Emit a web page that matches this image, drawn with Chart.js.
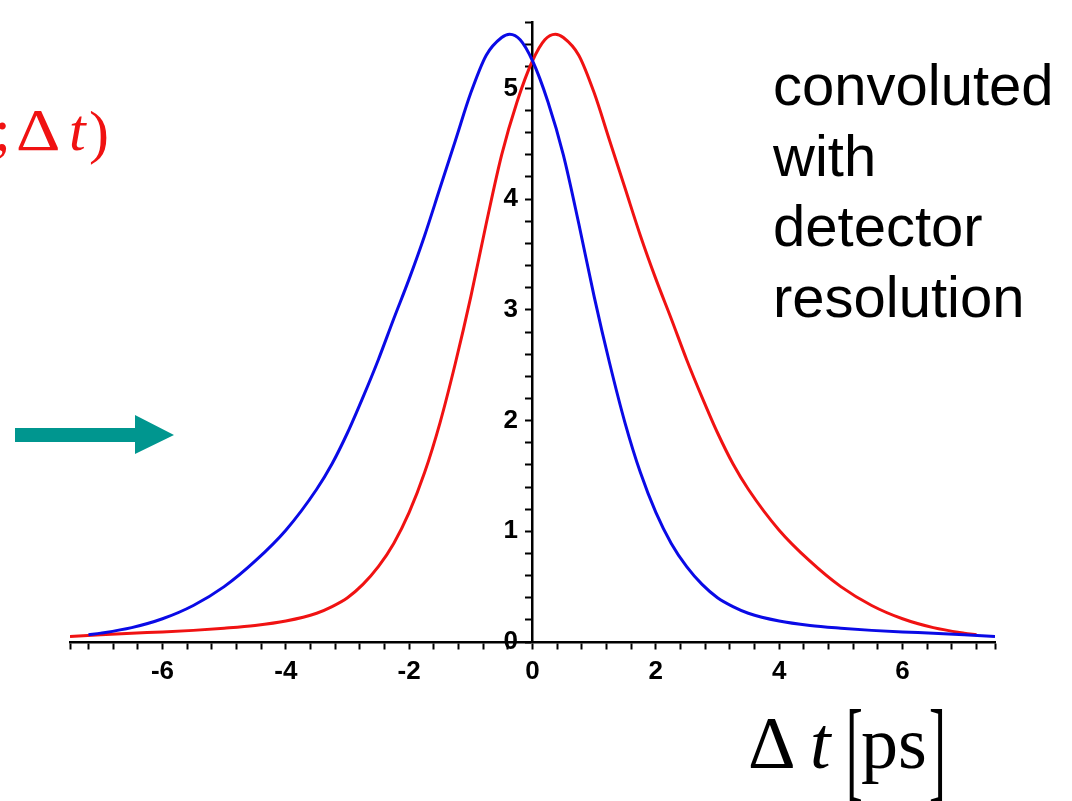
<!DOCTYPE html>
<html>
<head>
<meta charset="utf-8">
<script src="https://cdn.jsdelivr.net/npm/chart.js@4.4.1/dist/chart.umd.min.js"></script>
<style>
  html, body { margin: 0; padding: 0; background: #fff; }
  #wrap { width: 1072px; height: 801px; position: relative; }
</style>
</head>
<body>
<div id="wrap"><canvas id="dtChart"></canvas></div>
<script>
// decay-time distributions, both already smeared by the detector resolution
const dtBlue = [-7.2, -7, -6.5, -6, -5.5, -5, -4.5, -4, -3.5, -3.25, -3, -2.75, -2.5, -2.25, -2, -1.75, -1.5, -1.25, -1, -0.75, -0.5, -0.37, -0.2,
                0, 0.25, 0.5, 0.75, 1, 1.25, 1.5, 1.75, 2, 2.25, 2.5, 2.75, 3, 3.25, 3.5, 4, 4.5, 5, 5.5, 6, 6.5, 7, 7.5];
const blueValues = [0.065, 0.08, 0.13, 0.21, 0.33, 0.50, 0.73, 1.01, 1.38, 1.61, 1.89, 2.21, 2.55, 2.92, 3.28, 3.67, 4.10, 4.53, 4.96, 5.30, 5.46, 5.49, 5.44,
                    5.25, 4.88, 4.40, 3.78, 3.12, 2.52, 1.98, 1.53, 1.17, 0.89, 0.68, 0.52, 0.40, 0.32, 0.26, 0.19, 0.15, 0.125, 0.105, 0.09, 0.08, 0.065, 0.05];

const dtRed = [-7.5, -7, -6.5, -6, -5.5, -5, -4.5, -4, -3.5, -3.25, -3, -2.75, -2.5, -2.25, -2, -1.75, -1.5, -1.25, -1, -0.75, -0.5, -0.25,
               0, 0.2, 0.37, 0.5, 0.75, 1, 1.25, 1.5, 1.75, 2, 2.25, 2.5, 2.75, 3, 3.25, 3.5, 4, 4.5, 5, 5.5, 6, 6.5, 7, 7.2];
const redValues = [0.05, 0.065, 0.08, 0.09, 0.105, 0.125, 0.15, 0.19, 0.26, 0.32, 0.40, 0.52, 0.68, 0.89, 1.17, 1.53, 1.98, 2.52, 3.12, 3.78, 4.40, 4.88,
                   5.25, 5.44, 5.49, 5.46, 5.30, 4.96, 4.53, 4.10, 3.67, 3.28, 2.92, 2.55, 2.21, 1.89, 1.61, 1.38, 1.01, 0.73, 0.50, 0.33, 0.21, 0.13, 0.08, 0.065];

const xTickLabels = [-6, -4, -2, 0, 2, 4, 6];
const yTickLabels = [0, 1, 2, 3, 4, 5];

const X_MIN = -7.5, X_MAX = 7.5, Y_MAX = 5.6;

// minor ticks every 0.4 along x (plus the two ends), every 0.2 along y
const xTicks = [X_MIN];
for (let i = -18; i <= 18; i++) xTicks.push(Math.round(i * 4) / 10);
xTicks.push(X_MAX);
const yTicks = [];
for (let i = 0; i <= 28; i++) yTicks.push(Math.round(i * 2) / 10);

const toPoints = (xs, ys) => xs.map((x, i) => ({ x: x, y: ys[i] }));

const tickFont = { family: '"Liberation Sans", Arial, sans-serif', size: 26, weight: 'bold' };

// text and the arrow around the plot
const sideNotes = {
  id: 'sideNotes',
  afterDraw(chart) {
    const ctx = chart.ctx;
    ctx.save();
    ctx.textBaseline = 'alphabetic';
    ctx.textAlign = 'left';

    // red fragment of the formula, clipped by the left edge
    ctx.fillStyle = 'rgb(240,18,18)';
    ctx.font = '60px "Liberation Serif", serif';
    ctx.fillText(';', -6, 150);
    ctx.save();
    ctx.translate(16, 150);
    ctx.scale(1.15, 1);
    ctx.fillText('Δ', 0, 0);
    ctx.restore();
    ctx.font = 'italic 60px "Liberation Serif", serif';
    ctx.fillText('t', 69, 150);
    ctx.font = '60px "Liberation Serif", serif';
    ctx.fillText(')', 89, 152);

    // teal arrow
    ctx.fillStyle = '#00968f';
    ctx.beginPath();
    ctx.moveTo(15, 428);
    ctx.lineTo(135, 428);
    ctx.lineTo(135, 415);
    ctx.lineTo(174, 435);
    ctx.lineTo(135, 454);
    ctx.lineTo(135, 442);
    ctx.lineTo(15, 442);
    ctx.closePath();
    ctx.fill();

    // note on the right
    ctx.fillStyle = '#000';
    ctx.font = '58px "Liberation Sans", Arial, sans-serif';
    ['convoluted', 'with', 'detector', 'resolution'].forEach((line, i) => {
      ctx.fillText(line, 773, 105 + i * 70.6);
    });

    // axis title  Δt [ps]
    ctx.font = '74px "Liberation Serif", serif';
    ctx.fillText('Δ', 748, 768);
    ctx.font = 'italic 74px "Liberation Serif", serif';
    ctx.fillText('t', 810, 768);
    ctx.font = '74px "Liberation Serif", serif';
    ctx.fillText('ps', 861, 768);
    ctx.font = '112px "Liberation Serif", serif';
    ctx.save();
    ctx.translate(846, 787);
    ctx.scale(0.45, 1);
    ctx.fillText('[', 0, 0);
    ctx.restore();
    ctx.save();
    ctx.translate(929, 787);
    ctx.scale(0.45, 1);
    ctx.fillText(']', 0, 0);
    ctx.restore();

    ctx.restore();
  }
};

new Chart(document.getElementById('dtChart'), {
  type: 'line',
  data: {
    datasets: [
      {
        label: 'blue',
        data: toPoints(dtBlue, blueValues),
        borderColor: 'rgb(10,10,230)',
        borderWidth: 3,
        pointRadius: 0,
        cubicInterpolationMode: 'monotone'
      },
      {
        label: 'red',
        data: toPoints(dtRed, redValues),
        borderColor: 'rgb(240,18,18)',
        borderWidth: 3,
        pointRadius: 0,
        cubicInterpolationMode: 'monotone'
      }
    ]
  },
  options: {
    responsive: true,
    maintainAspectRatio: false,
    animation: false,
    layout: { padding: { left: 70, right: 77, top: 22, bottom: 159 } },
    plugins: { legend: { display: false }, tooltip: { enabled: false } },
    scales: {
      x: {
        type: 'linear',
        min: X_MIN,
        max: X_MAX,
        position: { y: 0 },
        afterBuildTicks: axis => { axis.ticks = xTicks.map(v => ({ value: v })); },
        grid: { drawOnChartArea: false, drawTicks: true, tickLength: 6, tickWidth: 2, tickColor: '#000' },
        border: { display: true, color: '#000', width: 2.5 },
        ticks: {
          autoSkip: false,
          maxRotation: 0,
          padding: 8,
          color: '#000',
          font: tickFont,
          callback: v => xTickLabels.includes(v) ? String(v) : ''
        }
      },
      y: {
        type: 'linear',
        min: 0,
        max: Y_MAX,
        position: { x: 0 },
        afterBuildTicks: axis => { axis.ticks = yTicks.map(v => ({ value: v })); },
        grid: { drawOnChartArea: false, drawTicks: true, tickLength: 6, tickWidth: 2, tickColor: '#000' },
        border: { display: true, color: '#000', width: 2.5 },
        ticks: {
          autoSkip: false,
          color: '#000',
          font: tickFont,
          // labels sit flush on an axis placed at x = 0, so keep them clear of the tick marks
          callback: v => yTickLabels.includes(v) ? String(v) + '  ' : ''
        }
      }
    }
  },
  plugins: [sideNotes]
});
</script>
</body>
</html>
